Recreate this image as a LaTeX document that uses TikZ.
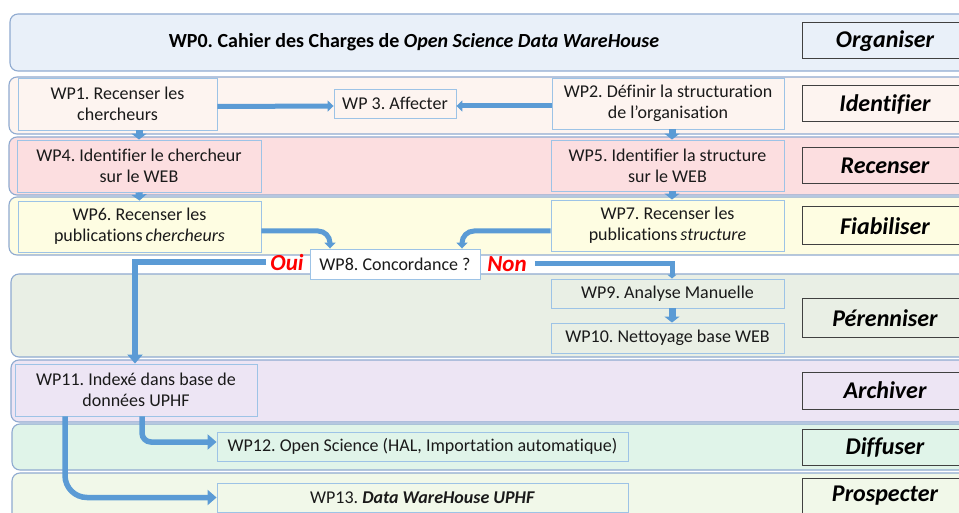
\documentclass[tikz,border=0pt]{standalone}
\usepackage{fontspec}
\setmainfont{Carlito}[Ligatures=NoCommon]
\frenchspacing
\usetikzlibrary{arrows.meta,calc}
\definecolor{arr}{HTML}{5B9BD5}
\definecolor{bandline}{HTML}{8FAAD0}
\definecolor{wpline}{HTML}{9DC3E6}
\definecolor{labline}{HTML}{404040}
\definecolor{txt}{HTML}{1A1A1A}
\definecolor{c0}{HTML}{E9F0F9}
\definecolor{c1}{HTML}{FDF4F0}
\definecolor{c2}{HTML}{FCDEE0}
\definecolor{c3}{HTML}{FEFDE2}
\definecolor{c4}{HTML}{E9EFE5}
\definecolor{c5}{HTML}{EDE5F4}
\definecolor{c6}{HTML}{E0F4E9}
\definecolor{c7}{HTML}{F1F8E9}
\definecolor{ouired}{HTML}{FF0000}
\begin{document}
\begin{tikzpicture}[x=1pt,y=-1pt,
  band/.style={draw=bandline, line width=1.1pt, rounded corners=8pt},
  wp/.style={draw=wpline, line width=0.9pt, align=center, inner sep=0pt, text=txt,
    font=\fontsize{18}{21}\selectfont},
  lab/.style={draw=labline, line width=1pt, inner sep=0pt, minimum width=166pt,
    font=\fontsize{24}{26}\selectfont\bfseries\itshape, text=black},
  decision/.style={font=\fontsize{23}{24}\selectfont\bfseries\itshape, text=ouired, inner sep=0pt},
  flow/.style={draw=arr, line width=5.5pt, -{Triangle[width=15pt,length=9pt]}},
  thinflow/.style={draw=arr, line width=5pt, -{Triangle[width=11pt,length=6pt]}},
  stub/.style={draw=arr, line width=7pt, -{Triangle[width=15pt,length=6pt]}}
]
\clip (0,0) rectangle (959,513);
\fill[white] (0,0) rectangle (959,513);
% bands
\draw[band, fill=c0] (10,14) rectangle (980,71);
\draw[band, fill=c1] (9,77) rectangle (980,134);
\draw[band, fill=c2] (9,137) rectangle (980,195);
\draw[band, fill=c3] (9,197) rectangle (980,255);
\draw[band, fill=c4] (11,274) rectangle (980,357);
\draw[band, fill=c5] (11,360) rectangle (980,422);
\draw[band, fill=c6] (12,424) rectangle (980,470);
\draw[band, fill=c7] (12,473) rectangle (980,540);
% labels
\node[lab, fill=c0, minimum height=36pt] (l0) at (885,41) {Organiser};
\node[lab, fill=c1, minimum height=36pt] (l1) at (885,104) {Identifier};
\node[lab, fill=c2, minimum height=36pt] (l2) at (885,166) {Recenser};
\node[lab, fill=c3, minimum height=38pt] (l3) at (885,226) {Fiabiliser};
\node[lab, fill=c4, minimum height=38pt] (l4) at (885,318) {Pérenniser};
\node[lab, fill=c5, minimum height=37pt] (l5) at (885,390.5) {Archiver};
\node[lab, fill=c6, minimum height=36pt] (l6) at (885,447) {Diffuser};
\node[lab, fill=c7, minimum height=36pt] (l7) at (885,496) {Prospecter};
% title
\node[font=\fontsize{20}{22}\selectfont\bfseries, text=black] (t0) at (414,42)
  {WP0. Cahier des Charges de \textit{Open Science Data WareHouse}};
% work packages
\node[wp, fill=c1, minimum width=199pt, minimum height=52pt] (wp1) at (117.5,104) {WP1. Recenser les\\chercheurs};
\node[wp, fill=c1, minimum width=122pt, minimum height=29pt] (wp3) at (395,103.5) {WP 3. Affecter};
\node[wp, fill=c1, minimum width=232pt, minimum height=51pt] (wp2) at (668,103.5) {WP2. Définir la structuration\\de l’organisation};
\node[wp, fill=c2, minimum width=244pt, minimum height=52pt] (wp4) at (139,166) {WP4. Identifier le chercheur\\sur le WEB};
\node[wp, fill=c2, minimum width=233pt, minimum height=51pt] (wp5) at (667.5,165.5) {WP5. Identifier la structure\\sur le WEB};
\node[wp, fill=c3, minimum width=243pt, minimum height=51pt] (wp6) at (139.5,226.5) {WP6. Recenser les\\publications\,\textit{chercheurs}};
\node[wp, fill=c3, minimum width=233pt, minimum height=51pt] (wp7) at (667.5,225.5) {WP7. Recenser les\\publications\,\textit{structure}};
\node[wp, fill=white, minimum width=170pt, minimum height=30pt] (wp8) at (395,264) {WP8. Concordance ?};
\node[wp, fill=c4, minimum width=233pt, minimum height=29pt] (wp9) at (667.5,293.5) {WP9. Analyse Manuelle};
\node[wp, fill=c4, minimum width=233pt, minimum height=30pt] (wp10) at (667.5,338) {WP10. Nettoyage base WEB};
\node[wp, fill=c5, minimum width=242pt, minimum height=52pt] (wp11) at (136,390) {WP11. Indexé dans base de\\données UPHF};
\node[wp, fill=c6, minimum width=411pt, minimum height=29pt] (wp12) at (422.5,446.5) {WP12. Open Science (HAL, Importation automatique)};
\node[wp, fill=c7, minimum width=411pt, minimum height=29pt] (wp13) at (422.5,497.5) {WP13. \textbf{\textit{Data WareHouse UPHF}}};
% decisions
\node[decision] (oui) at (287,263) {Oui};
\node[decision] (non) at (507,264) {Non};
% connectors
\draw[thinflow] ([yshift=-2.5pt]wp1.east) -- ([yshift=-2.5pt]wp3.west);
\draw[thinflow] ([yshift=-2.5pt]wp2.west) -- ([yshift=-2.5pt]wp3.east);
\draw[stub] (wp4.north |- wp1.south) -- (wp4.north);
\draw[stub] (wp4.south) -- (wp6.north);
\draw[stub] ([xshift=4pt]wp2.south) -- ([xshift=4.5pt]wp5.north);
\draw[stub] ([xshift=4.5pt]wp5.south) -- ([xshift=4.5pt]wp7.north);
\draw[stub] ([xshift=4.5pt]wp9.south) -- ([xshift=4.5pt]wp10.north);
\draw[thinflow, rounded corners=12pt] ([yshift=-4.5pt]wp6.east) -| ([xshift=-65pt]wp8.north);
\draw[thinflow, rounded corners=12pt] ([yshift=-5.5pt]wp7.west) -| ([xshift=67pt]wp8.north);
\draw[flow] ([xshift=-4pt,yshift=1pt]oui.west) -| ([xshift=-1pt]wp11.north);
\draw[draw=arr, line width=5pt, -{Triangle[width=9pt,length=4pt]}] ([xshift=8pt]non.east) -| ([xshift=4.5pt]wp9.north);
\draw[flow, rounded corners=9pt] ([xshift=6pt]wp11.south) |- ([yshift=4.5pt]wp12.west);
\draw[flow, rounded corners=22pt] ([xshift=-71pt]wp11.south) |- (wp13.west);
\end{tikzpicture}
\end{document}
